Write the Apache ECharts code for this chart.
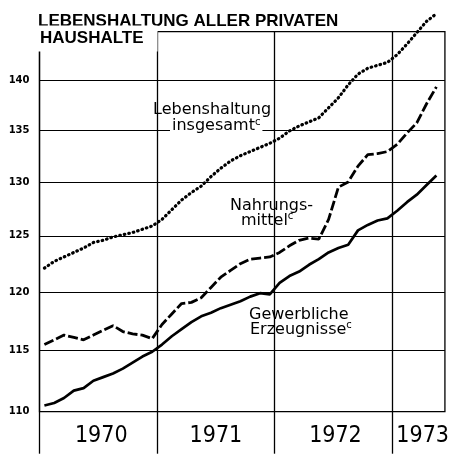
<!DOCTYPE html>
<html><head><meta charset="utf-8">
<script src="https://cdn.jsdelivr.net/npm/echarts@6/dist/echarts.min.js"></script>
<style>html,body{margin:0;padding:0;background:#fff}#c{width:452px;height:455px}</style>
</head><body><div id="c"></div>
<script>
const titleLines = ['LEBENSHALTUNG ALLER PRIVATEN', 'HAUSHALTE'];
const yearLabels = ['1970', '1971', '1972', '1973'];
const yearStartMonths = [0, 12, 24, 36];
const yearLabelMonths = [6.3, 18, 30.2, 39.1];
const yTicks = [110, 115, 120, 125, 130, 135, 140];

// monthly values, Jan 1970 .. May 1973
const lebenshaltung = [122.1,122.7,123.1,123.5,123.9,124.4,124.6,124.9,125.1,125.3,125.6,125.9,
  126.5,127.4,128.3,129.0,129.6,130.5,131.3,132.0,132.5,132.9,133.3,133.7,
  134.2,134.9,135.4,135.8,136.2,137.2,138.2,139.5,140.6,141.2,141.5,141.8,
  142.6,143.7,144.9,146.1,146.9];
const nahrungsmittel = [115.5,115.9,116.3,116.1,115.9,116.3,116.7,117.1,116.6,116.4,116.3,116.0,
  117.2,118.1,119.0,119.1,119.5,120.4,121.3,121.9,122.5,122.9,123.0,123.1,
  123.5,124.1,124.6,124.8,124.7,126.5,129.5,130.0,131.5,132.6,132.7,132.9,
  133.6,134.7,135.7,137.6,139.3];
const gewerbliche = [110.5,110.7,111.1,111.7,111.9,112.5,112.8,113.1,113.5,114.0,114.5,114.9,
  115.5,116.2,116.8,117.4,117.9,118.2,118.6,118.9,119.2,119.6,119.9,119.8,
  120.8,121.4,121.8,122.4,122.9,123.5,123.9,124.2,125.5,126.0,126.4,126.6,
  127.3,128.1,128.8,129.7,130.6];

const toPts = arr => arr.map((v, i) => [i + 0.5, v]);
const ann = 'normal 16px "DejaVu Sans"';
const sup = 'normal 10px "DejaVu Sans"';

const chart = echarts.init(document.getElementById('c'), null, {renderer: 'canvas'});
chart.setOption({
  animation: false,
  backgroundColor: '#fff',
  grid: {left: 39.5, right: 0, top: 31.7, bottom: 43.3, show: true, borderColor: '#000', borderWidth: 1.3, containLabel: false},
  xAxis: {
    type: 'value', min: 0, max: 41.37,
    axisLine: {show: false},
    axisTick: {show: true, customValues: yearStartMonths, length: 42, inside: false, lineStyle: {color: '#000', width: 1.3}},
    axisLabel: {customValues: yearLabelMonths, formatter: v => yearLabels[Math.floor(v / 12)],
      fontSize: 23, fontFamily: '"DejaVu Sans Condensed", "Liberation Sans Narrow", sans-serif', color: '#000', margin: 13},
    splitLine: {show: true, lineStyle: {color: '#000', width: 1.3}}
  },
  yAxis: {
    type: 'log', logBase: 10, min: 110, max: 145,
    axisLine: {show: false},
    axisTick: {show: false, customValues: yTicks},
    axisLabel: {customValues: yTicks, color: '#000', fontFamily: '"DejaVu Sans"', fontWeight: 'bold', fontSize: 10, margin: 10},
    splitLine: {show: true, lineStyle: {color: '#000', width: 1.2}}
  },
  series: [
    {name: 'Lebenshaltung insgesamt', type: 'line', data: toPts(lebenshaltung), showSymbol: false, clip: false,
      lineStyle: {color: '#000', width: 3.2, type: [0.6, 4.0], cap: 'round'}},
    {name: 'Nahrungsmittel', type: 'line', data: toPts(nahrungsmittel), showSymbol: false, clip: false,
      lineStyle: {color: '#000', width: 2.8, type: [10, 3]}},
    {name: 'Gewerbliche Erzeugnisse', type: 'line', data: toPts(gewerbliche), showSymbol: false, clip: false,
      lineStyle: {color: '#000', width: 2.7}}
  ],
  graphic: [
    {type: 'text', z: 100, x: 38, y: 21, style: {text: titleLines[0], font: 'bold 17px "Liberation Sans"', fill: '#000', align: 'left', verticalAlign: 'middle'}},
    {type: 'text', z: 100, x: 38, y: 38.5, style: {text: titleLines[1], font: 'bold 17px "Liberation Sans"', fill: '#000', align: 'left', verticalAlign: 'middle', backgroundColor: '#fff', padding: [3, 14, 6, 2]}},
    {type: 'text', z: 100, x: 153, y: 109.5, style: {text: 'Lebenshaltung', font: ann, fill: '#000', align: 'left', verticalAlign: 'middle'}},
    {type: 'text', z: 100, x: 170, y: 126, style: {text: '{a|insgesamt}{s|c}', fill: '#000', align: 'left', verticalAlign: 'middle', backgroundColor: '#fff', padding: [0, 2, 0, 2],
      rich: {a: {font: ann, fill: '#000', lineHeight: 18}, s: {font: sup, fill: '#000', verticalAlign: 'top', lineHeight: 18}}}},
    {type: 'text', z: 100, x: 230, y: 206, style: {text: 'Nahrungs-', font: ann, fill: '#000', align: 'left', verticalAlign: 'middle'}},
    {type: 'text', z: 100, x: 241, y: 220.5, style: {text: '{a|mittel}{s|c}', fill: '#000', align: 'left', verticalAlign: 'middle',
      rich: {a: {font: ann, fill: '#000', lineHeight: 18}, s: {font: sup, fill: '#000', verticalAlign: 'top', lineHeight: 18}}}},
    {type: 'text', z: 100, x: 249, y: 314.5, style: {text: 'Gewerbliche', font: ann, fill: '#000', align: 'left', verticalAlign: 'middle'}},
    {type: 'text', z: 100, x: 250, y: 329.5, style: {text: '{a|Erzeugnisse}{s|c}', fill: '#000', align: 'left', verticalAlign: 'middle',
      rich: {a: {font: ann, fill: '#000', lineHeight: 18}, s: {font: sup, fill: '#000', verticalAlign: 'top', lineHeight: 18}}}}
  ]
});
</script></body></html>
